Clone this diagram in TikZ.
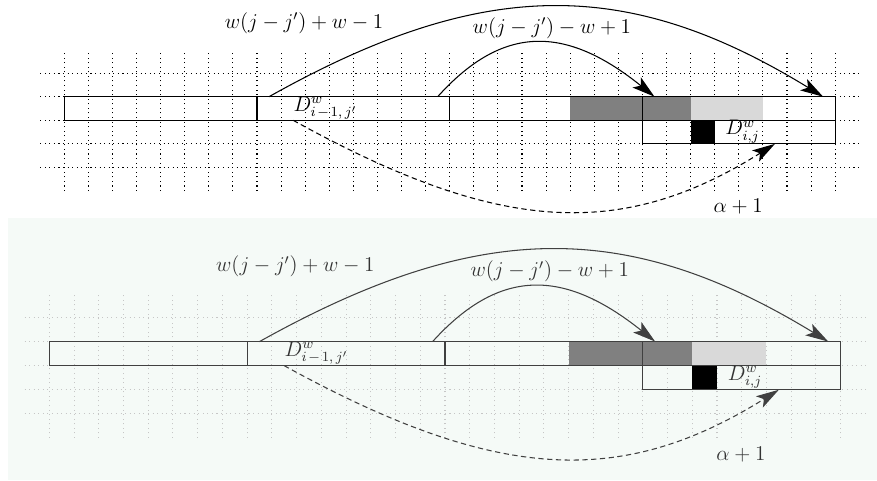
\documentclass[tikz,border=0pt]{standalone}
\usepackage{amsmath,amssymb}
\usetikzlibrary{arrows.meta}

\definecolor{panelbg}{RGB}{245,250,247}

\tikzset{
  gridline/.style={dotted, line width=0.6pt},
  cellline/.style={line width=0.6pt},
  jumpline/.style={->, line width=0.6pt},
}

% one copy of the band: #1 grid colour, #2 line colour, #3 text colour
\newcommand{\bandpanel}[3]{%
  \foreach \c in {0,...,32} {\draw[#1, gridline] (\c,-3) -- (\c,3);}
  \foreach \r in {-2,...,2} {\draw[#1, gridline] (-1,\r) -- (33,\r);}
  \fill[gray] (21,0) rectangle (26,1);
  \fill[gray!30] (26,0) rectangle (29,1);
  \fill[black] (26,-1) rectangle (27,0);
  \draw[#2, cellline] (0,0) rectangle (32,1) (8,0) -- (8,1) (16,0) -- (16,1) (24,0) -- (24,1);
  \draw[#2, cellline] (24,-1) rectangle (32,0);
  \coordinate (longfrom) at (8.5,1);
  \coordinate (longto) at (31.5,1);
  \coordinate (shortfrom) at (15.5,1);
  \coordinate (shortto) at (24.5,1);
  \coordinate (diagfrom) at (9.5,0);
  \coordinate (diagto) at (29.5,-1);
  \draw[jumpline, #2] (longfrom) .. controls (17.4,6.1) and (23.4,6.07) .. (longto);
  \draw[jumpline, #2] (shortfrom) .. controls (18.2,4.06) and (20.8,4.04) .. (shortto);
  \draw[jumpline, #2, dash pattern=on 3pt off 2pt] (diagfrom) .. controls (18,-4.8) and (23.1,-5.1) .. (diagto);
  \node[#3] (longlabel) at (9.95,4.12) {$w(j-j')+w-1$};
  \node[#3] (shortlabel) at (20.24,3.91) {$w(j-j')-w+1$};
  \node[#3] (diaglabel) at (27.97,-3.67) {$\alpha+1$};
  \node[#3, anchor=base west, inner sep=0pt] (prevblock) at (9.5,0.39) {$D^{w}_{i\mkern2mu-\mkern2mu1,\,j'}$};
  \node[#3, anchor=base west, inner sep=0pt] (curblock) at (27.43,-0.62) {$D^{w}_{i,j}$};
}

\begin{document}
\begin{tikzpicture}[every node/.style={font=\fontsize{12}{14}\selectfont}, >={Stealth[length=13pt, width=7.5pt, inset=3pt]}]
	\useasboundingbox (0,0) rectangle (17.54,9.62);
	\fill[panelbg] (0.16,0.02) rectangle (17.54,5.26);
	\begin{scope}[shift={(1.286,7.214)}, xscale=0.4818, yscale=0.472, name prefix=top-]
		\bandpanel{black}{black}{black}
	\end{scope}
	\begin{scope}[shift={(0.986,2.306)}, xscale=0.4946, yscale=0.482, name prefix=low-]
		\bandpanel{gray!45}{black!75}{black!80}
	\end{scope}
\end{tikzpicture}
\end{document}
